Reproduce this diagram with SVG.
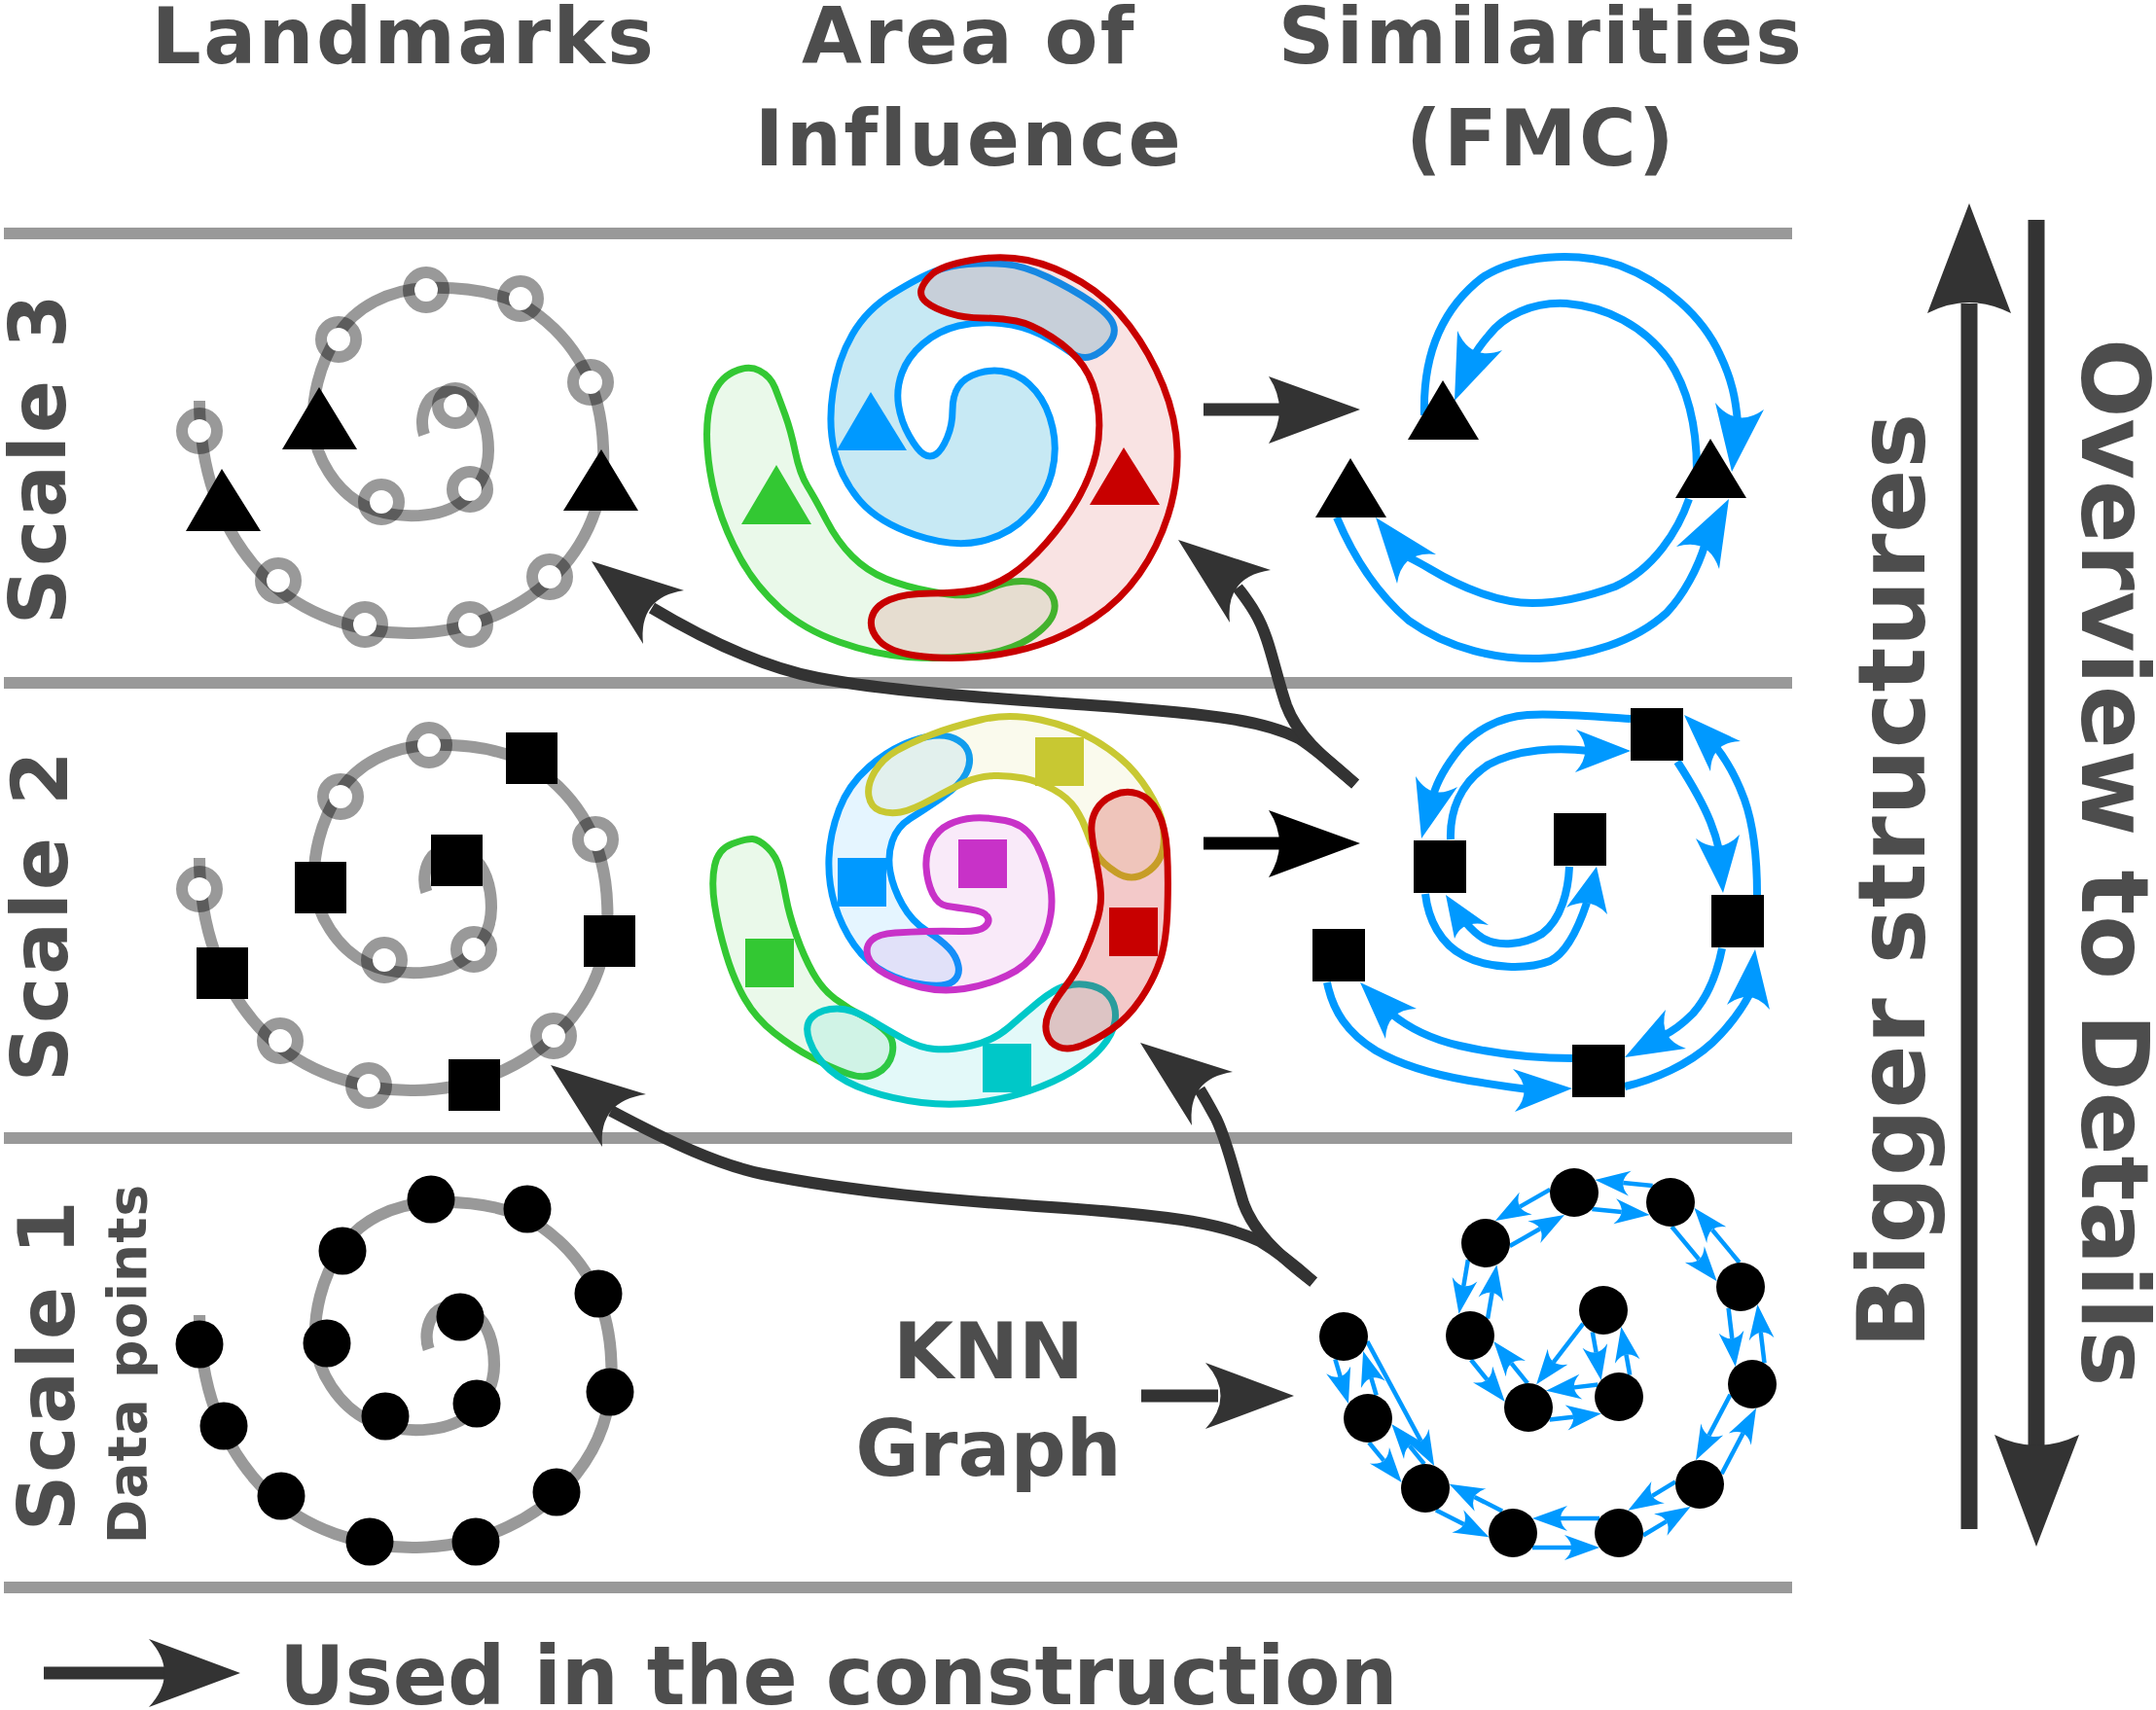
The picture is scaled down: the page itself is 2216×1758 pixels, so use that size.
<svg xmlns="http://www.w3.org/2000/svg" xmlns:xlink="http://www.w3.org/1999/xlink" width="2216" height="1758" viewBox="0 0 2216 1758">
<style>
.sep{stroke:#999;stroke-width:12}
.lbl{font-family:"DejaVu Sans","Liberation Sans",sans-serif;font-weight:bold;fill:#4d4d4d}
.spiral{fill:none;stroke:#999;stroke-width:12}
.dark{fill:none;stroke:#333;stroke-width:12}
.darkh{fill:#333}
.fmc{fill:none;stroke:#0099ff;stroke-width:8}
.fmch{fill:#0099ff}
.knn line{stroke:#0099ff;stroke-width:4.5;marker-end:url(#kh)}
.reg{stroke-width:7}
</style>
<defs>
<marker id="kh" markerUnits="userSpaceOnUse" orient="auto" refX="7" refY="0" markerWidth="40" markerHeight="30" style="overflow:visible"><path d="M36,0 L0,-13 Q14,0 0,13 Z" fill="#0099ff"/></marker>
<path id="sp" d="M205,412 C205,480 225,545 272,593 C310,632 370,652 424,651 C490,650 550,620 585,575 C612,540 622,500 620,460 C618,400 595,352 545,318 C512,298 470,295 438,296 C400,298 365,315 347,345 C328,375 320,410 322,440 C324,470 345,505 375,520 C400,533 445,535 472,518 C492,505 502,485 502,463 C502,440 495,420 482,410 C470,400 452,400 442,410 C434,420 432,435 436,447"/>
<g id="hc"><circle r="12" fill="#fff"/><circle r="18" fill="none" stroke="#000" stroke-opacity="0.4" stroke-width="12"/></g>
</defs>
<rect width="2216" height="1758" fill="#fff"/>
<g id="separators">
<line class="sep" x1="4" y1="240" x2="1842" y2="240"/>
<line class="sep" x1="4" y1="702" x2="1842" y2="702"/>
<line class="sep" x1="4" y1="1170" x2="1842" y2="1170"/>
<line class="sep" x1="4" y1="1632" x2="1842" y2="1632"/>
</g>
<g id="headers" class="lbl" font-size="80" text-anchor="middle" letter-spacing="2.4">
<text x="415" y="65">Landmarks</text>
<text x="996" y="65">Area of</text>
<text x="996" y="170">Influence</text>
<text x="1584" y="65">Similarities</text>
<text x="1584" y="170">(FMC)</text>
</g>
<g id="row-labels" class="lbl" text-anchor="middle">
<text font-size="80" letter-spacing="2.6" transform="translate(67,471) rotate(-90)">Scale 3</text>
<text font-size="80" letter-spacing="2.6" transform="translate(69,941) rotate(-90)">Scale 2</text>
<text font-size="80" letter-spacing="2.6" transform="translate(76,1403) rotate(-90)">Scale 1</text>
<text font-size="55" letter-spacing="1" transform="translate(150,1402) rotate(-90)">Data points</text>
</g>
<g id="connectors">
<g id="construction-arrows">
<path class="dark" d="M1393,806 C1375,790 1355,772 1335,759 C1300,742 1260,735 1121,725 C1040,719 920,712 841,697 C780,685 720,655 670,625"/>
<path class="darkh" d="M608,577 L703,607 Q656,614 661,662 Z"/>
<path class="dark" d="M1393,806 C1365,782 1335,760 1322,725 C1310,690 1305,655 1290,630 C1283,618 1278,612 1272,604"/>
<path class="darkh" d="M1211,555 L1306,586 Q1259,593 1264,640 Z"/>
<path class="dark" d="M1350,1318 C1330,1300 1315,1288 1295,1276 C1260,1260 1220,1250 1065,1240 C980,1234 880,1226 784,1207 C740,1198 690,1175 628,1142"/>
<path class="darkh" d="M566,1095 L664,1125 Q615,1132 619,1179 Z"/>
<path class="dark" d="M1350,1318 C1320,1295 1290,1270 1278,1237 C1268,1205 1262,1175 1250,1150 C1243,1137 1238,1128 1233,1120"/>
<path class="darkh" d="M1172,1072 L1267,1102 Q1220,1109 1225,1157 Z"/>
<line x1="1237" y1="421" x2="1318" y2="421" stroke="#333" stroke-width="13"/>
<path class="darkh" d="M1398,421 L1304,387 Q1326,421 1304,456 Z"/>
<line x1="1237" y1="867" x2="1318" y2="867" stroke="#000" stroke-width="13"/>
<path fill="#000" d="M1398,867 L1304,833 Q1326,867 1304,902 Z"/>
<line x1="1173" y1="1435" x2="1252" y2="1435" stroke="#333" stroke-width="13"/>
<path class="darkh" d="M1330,1435 L1239,1401 Q1270,1435 1239,1469 Z"/>
<line x1="2024" y1="1572" x2="2024" y2="312" stroke="#333" stroke-width="17"/>
<path class="darkh" d="M2024,209 L1981,322 Q2024,300 2067,322 Z"/>
<line x1="2093" y1="226" x2="2093" y2="1486" stroke="#333" stroke-width="17"/>
<path class="darkh" d="M2093,1590 L2050,1475 Q2093,1497 2137,1475 Z"/>
</g>
<g id="fmc3-edges">
<path class="fmc" d="M1464,427 C1462,360 1485,315 1524,285 C1560,262 1620,258 1665,273 C1710,290 1750,325 1768,365 C1780,390 1784,410 1786,434"/>
<path class="fmch" d="M1780,485 L1763,414 Q1785,441 1813,421 Z"/>
<path class="fmc" d="M1744,483 C1744,440 1735,400 1715,370 C1690,335 1650,315 1610,312 C1575,310 1545,325 1530,345 C1524,352 1519,358 1515,366"/>
<path class="fmch" d="M1495,412 L1498,340 Q1512,372 1544,360 Z"/>
<path class="fmc" d="M1736,513 C1725,545 1700,585 1660,603 C1630,614 1600,620 1575,620 C1540,620 1500,603 1470,585 C1460,579 1452,575 1446,572"/>
<path class="fmch" d="M1414,532 L1476,570 Q1441,566 1436,600 Z"/>
<path class="fmc" d="M1374,532 C1390,570 1415,610 1448,638 C1490,668 1540,678 1582,677 C1630,675 1680,660 1713,630 C1730,612 1745,585 1753,558"/>
<path class="fmch" d="M1777,513 L1723,562 Q1756,552 1767,585 Z"/>
</g>
<g id="fmc2-edges" stroke-width="7.5">
<path class="fmc" d="M1676,739 C1640,737 1600,733 1570,735 C1540,737 1515,752 1500,770 C1488,785 1478,800 1473,818"/>
<path class="fmch" d="M1461,862 L1455,798 Q1471,824 1498,809 Z"/>
<path class="fmc" d="M1491,863 C1490,835 1500,805 1530,786 C1560,770 1600,768 1634,772"/>
<path class="fmch" d="M1676,772 L1620,750 Q1639,772 1619,794 Z"/>
<path class="fmc" d="M1724,783 C1735,800 1750,825 1758,845 C1762,855 1765,865 1767,874"/>
<path class="fmch" d="M1771,918 L1743,862 Q1767,880 1788,858 Z"/>
<path class="fmc" d="M1806,920 C1806,885 1803,850 1793,822 C1785,800 1775,782 1763,767"/>
<path class="fmch" d="M1731,735 L1758,793 Q1759,763 1789,762 Z"/>
<path class="fmc" d="M1770,975 C1765,1000 1755,1025 1740,1042 C1730,1052 1720,1060 1709,1065"/>
<path class="fmch" d="M1670,1087 L1712,1038 Q1704,1068 1733,1078 Z"/>
<path class="fmc" d="M1670,1117 C1700,1110 1735,1095 1760,1072 C1778,1055 1790,1038 1799,1021"/>
<path class="fmch" d="M1804,976 L1775,1033 Q1800,1015 1819,1038 Z"/>
<path class="fmc" d="M1616,1088 C1580,1088 1540,1084 1500,1075 C1470,1068 1448,1057 1430,1042"/>
<path class="fmch" d="M1398,1010 L1456,1037 Q1425,1038 1424,1068 Z"/>
<path class="fmc" d="M1364,1010 C1370,1040 1385,1062 1414,1080 C1440,1095 1475,1105 1510,1111 C1535,1115 1555,1118 1571,1120"/>
<path class="fmch" d="M1616,1119 L1555,1099 Q1577,1120 1557,1143 Z"/>
<path class="fmc" d="M1465,919 C1468,945 1480,970 1505,983 C1530,996 1570,997 1593,988 C1610,980 1622,955 1631,928"/>
<path class="fmch" d="M1641,891 L1610,933 Q1635,921 1652,940 Z"/>
<path class="fmc" d="M1613,891 C1612,915 1605,945 1585,960 C1565,972 1540,973 1525,965 C1518,961 1512,955 1506,948"/>
<path class="fmch" d="M1486,920 L1530,951 Q1503,945 1495,965 Z"/>
</g>
<g id="knn-edges" class="knn">
<g transform="translate(1381,1374) rotate(73.4)"><line x1="20" y1="15" x2="38.6" y2="15"/><line x1="67.6" y1="-15" x2="49" y2="-15"/></g>
<g transform="translate(1406,1458) rotate(50.7)"><line x1="20" y1="15" x2="44.1" y2="15"/><line x1="73.1" y1="-15" x2="49" y2="-15"/></g>
<g transform="translate(1465,1530) rotate(27.1)"><line x1="20" y1="15" x2="52.1" y2="15"/><line x1="81.1" y1="-15" x2="49" y2="-15"/></g>
<g transform="translate(1555,1576)"><line x1="20" y1="15" x2="60" y2="15"/><line x1="89" y1="-15" x2="49" y2="-15"/></g>
<g transform="translate(1664,1576) rotate(-31.1)"><line x1="20" y1="15" x2="47.9" y2="15"/><line x1="76.9" y1="-15" x2="49" y2="-15"/></g>
<g transform="translate(1747,1526) rotate(-62.3)"><line x1="20" y1="15" x2="67.3" y2="15"/><line x1="96.3" y1="-15" x2="49" y2="-15"/></g>
<g transform="translate(1801,1423) rotate(-96.8)"><line x1="20" y1="15" x2="51.7" y2="15"/><line x1="80.7" y1="-15" x2="49" y2="-15"/></g>
<g transform="translate(1789,1323) rotate(-129.6)"><line x1="20" y1="15" x2="63.9" y2="15"/><line x1="92.9" y1="-15" x2="49" y2="-15"/></g>
<g transform="translate(1717,1236) rotate(-174.2)"><line x1="20" y1="15" x2="50.5" y2="15"/><line x1="79.5" y1="-15" x2="49" y2="-15"/></g>
<g transform="translate(1618,1226) rotate(150.3)"><line x1="20" y1="15" x2="55.8" y2="15"/><line x1="84.8" y1="-15" x2="49" y2="-15"/></g>
<g transform="translate(1527,1278) rotate(99.6)"><line x1="20" y1="15" x2="47.3" y2="15"/><line x1="76.3" y1="-15" x2="49" y2="-15"/></g>
<g transform="translate(1511,1373) rotate(51)"><line x1="20" y1="15" x2="46.3" y2="15"/><line x1="75.3" y1="-15" x2="49" y2="-15"/></g>
<g transform="translate(1571,1447) rotate(-6.7)"><line x1="20" y1="15" x2="44.6" y2="15"/><line x1="73.6" y1="-15" x2="49" y2="-15"/></g>
<g transform="translate(1648,1347) rotate(79.8)"><line x1="20" y1="15" x2="41.4" y2="15"/><line x1="70.4" y1="-15" x2="49" y2="-15"/></g>
<g transform="translate(1381,1374) rotate(61.7)"><line x1="16" y1="-19" x2="132.2" y2="-19"/></g>
<g transform="translate(1648,1347) rotate(127.6)"><line x1="23.7" y1="8" x2="73.5" y2="8"/></g>
</g>
</g>
<g id="landmarks-scale3">
<use xlink:href="#sp" class="spiral"/>
<use xlink:href="#hc" x="205" y="443"/><use xlink:href="#hc" x="438" y="298"/><use xlink:href="#hc" x="535" y="307"/>
<use xlink:href="#hc" x="348" y="349"/><use xlink:href="#hc" x="607" y="393"/><use xlink:href="#hc" x="468" y="417"/>
<use xlink:href="#hc" x="392" y="516"/><use xlink:href="#hc" x="483" y="503"/><use xlink:href="#hc" x="286" y="597"/>
<use xlink:href="#hc" x="375" y="642"/><use xlink:href="#hc" x="483" y="642"/><use xlink:href="#hc" x="565" y="593"/>
<path d="M328,398 L290,462 L367,462 Z M228,482 L191,546 L268,546 Z M618,462 L579,525 L656,525 Z" fill="#000"/>
</g>
<g id="landmarks-scale2">
<use xlink:href="#sp" class="spiral" transform="translate(205,470) scale(1.01,1) translate(-205,0)"/>
<use xlink:href="#hc" x="205" y="914"/><use xlink:href="#hc" x="441" y="766"/><use xlink:href="#hc" x="350" y="819"/>
<use xlink:href="#hc" x="612" y="863"/><use xlink:href="#hc" x="395" y="987"/><use xlink:href="#hc" x="487" y="976"/>
<use xlink:href="#hc" x="288" y="1070"/><use xlink:href="#hc" x="379" y="1116"/><use xlink:href="#hc" x="569" y="1065"/>
<g fill="#000">
<rect x="520" y="753" width="53" height="53"/><rect x="443" y="858" width="53" height="53"/><rect x="303" y="886" width="53" height="53"/>
<rect x="600" y="941" width="53" height="53"/><rect x="202" y="974" width="53" height="53"/><rect x="461" y="1089" width="53" height="53"/>
</g>
</g>
<g id="landmarks-scale1">
<use xlink:href="#sp" class="spiral" transform="translate(205,940) scale(1.02,1) translate(-205,0)"/>
<g fill="#000">
<circle cx="205" cy="1382" r="24.5"/><circle cx="230" cy="1466" r="24.5"/><circle cx="289" cy="1538" r="24.5"/>
<circle cx="380" cy="1585" r="24.5"/><circle cx="489" cy="1585" r="24.5"/><circle cx="572" cy="1534" r="24.5"/>
<circle cx="627" cy="1431" r="24.5"/><circle cx="615" cy="1330" r="24.5"/><circle cx="542" cy="1243" r="24.5"/>
<circle cx="443" cy="1233" r="24.5"/><circle cx="352" cy="1286" r="24.5"/><circle cx="336" cy="1381" r="24.5"/>
<circle cx="473" cy="1354" r="24.5"/><circle cx="396" cy="1456" r="24.5"/><circle cx="490" cy="1443" r="24.5"/>
</g>
</g>
<g id="influence-scale3" class="reg">
<path fill="#33c833" fill-opacity="0.1" stroke="#33c833" d="M780.5,381 Q769,375 753.5,382.5 Q738,390 731.5,410 Q725,430 727,460 Q729,490 737.5,518.5 Q746,547 761.5,575 Q777,603 801.5,625 Q826,647 862.5,660 Q899,673 933.5,675.5 Q968,678 1002.5,674 Q1037,670 1058,656.5 Q1079,643 1083,630 Q1087,617 1077,607 Q1067,597 1050,597.5 Q1033,598 1019.5,604 Q1006,610 994.5,611.5 Q983,613 956.5,608 Q930,603 910.5,595 Q891,587 876,572 Q861,557 849.5,535 Q838,513 830,500 Q822,487 817.5,465 Q813,443 807,426.5 Q801,410 796.5,398.5 Q792,387 780.5,381 Z"/>
<path fill="#0099cc" fill-opacity="0.22" stroke="#0099ff" d="M960.5,279 Q945,285 918,301.5 Q891,318 876,344 Q861,370 856,403.5 Q851,437 858,465 Q865,493 884,515 Q903,537 941,550 Q979,563 1008,556.5 Q1037,550 1056,530 Q1075,510 1081,486.5 Q1087,463 1082,440 Q1077,417 1064.5,402 Q1052,387 1036.5,383 Q1021,379 1006,383.5 Q991,388 985,397.5 Q979,407 979,422 Q979,437 973.5,450 Q968,463 962,467 Q956,471 949.5,467 Q943,463 934.5,448 Q926,433 923.5,416.5 Q921,400 927,383.5 Q933,367 948.5,353.5 Q964,340 985,335 Q1006,330 1029,332.5 Q1052,335 1069.5,344 Q1087,353 1099,361.5 Q1111,370 1121.5,366.5 Q1132,363 1140,353 Q1148,343 1144,333 Q1140,323 1121,310 Q1102,297 1077,285 Q1052,273 1033,271.5 Q1014,270 995,271.5 Q976,273 960.5,279 Z"/>
<path fill="#c80000" fill-opacity="0.11" stroke="#c80000" d="M947,297.5 Q949,290 958.5,281.5 Q968,273 998.5,267.5 Q1029,262 1056,267.5 Q1083,273 1111.5,290 Q1140,307 1161,335 Q1182,363 1195.5,396.5 Q1209,430 1210,463.5 Q1211,497 1200.5,530 Q1190,563 1171,590 Q1152,617 1125,635 Q1098,653 1067.5,663 Q1037,673 1002.5,675.5 Q968,678 941,674 Q914,670 903.5,658.5 Q893,647 896,635 Q899,623 914.5,616.5 Q930,610 956.5,610 Q983,610 1002,606.5 Q1021,603 1038.5,591.5 Q1056,580 1075,558.5 Q1094,537 1107.5,513.5 Q1121,490 1126.5,466.5 Q1132,443 1128.5,418 Q1125,393 1113.5,376.5 Q1102,360 1081,346.5 Q1060,333 1044.5,330 Q1029,327 1010,327 Q991,327 975.5,322 Q960,317 952.5,311 Q945,305 947,297.5 Z"/>
<path fill="#33c833" d="M798,478 L762,539 L834,539 Z"/>
<path fill="#0099ff" d="M895,403 L860,463 L932,463 Z"/>
<path fill="#c80000" d="M1155,460 L1120,519 L1192,519 Z"/>
</g>
<g id="influence-scale2" class="reg">
<path fill="#33c833" fill-opacity="0.1" stroke="#33c833" d="M773.5,862.5 Q767,862 752.5,867.5 Q738,873 734.5,890 Q731,907 734.5,930 Q738,953 746,980 Q754,1007 765.5,1027 Q777,1047 796,1062 Q815,1077 834,1087 Q853,1097 870.5,1103.5 Q888,1110 901,1103.5 Q914,1097 917,1083.5 Q920,1070 911.5,1061.5 Q903,1053 887.5,1045 Q872,1037 858.5,1027 Q845,1017 835.5,1000 Q826,983 818.5,961.5 Q811,940 808,923.5 Q805,907 801.5,893.5 Q798,880 789,871.5 Q780,863 773.5,862.5 Z"/>
<path fill="#00c8c8" fill-opacity="0.11" stroke="#00c8c8" d="M832,1070 Q826,1053 835.5,1045 Q845,1037 860.5,1037 Q876,1037 895,1048.5 Q914,1060 929.5,1068.5 Q945,1077 960.5,1078.5 Q976,1080 998.5,1075 Q1021,1070 1036.5,1056.5 Q1052,1043 1067.5,1030 Q1083,1017 1096,1013.5 Q1109,1010 1122.5,1013.5 Q1136,1017 1142,1027 Q1148,1037 1146,1050 Q1144,1063 1132.5,1076.5 Q1121,1090 1102,1101.5 Q1083,1113 1058,1121.5 Q1033,1130 1004.5,1133.5 Q976,1137 947,1133.5 Q918,1130 893,1121.5 Q868,1113 853,1100 Q838,1087 832,1070 Z"/>
<path fill="#0099ff" fill-opacity="0.1" stroke="#0099ff" d="M938,761.5 Q962,753 976.5,757.5 Q991,762 995,772.5 Q999,783 993,795 Q987,807 968,820 Q949,833 935.5,841.5 Q922,850 917,865 Q912,880 915,896.5 Q918,913 927.5,930 Q937,947 952.5,957 Q968,967 975.5,975 Q983,983 985,993 Q987,1003 979.5,1009 Q972,1015 951,1012.5 Q930,1010 910.5,1000 Q891,990 878,971.5 Q865,953 858,930 Q851,907 852,882 Q853,857 862.5,832 Q872,807 893,788.5 Q914,770 938,761.5 Z"/>
<path fill="#c8c832" fill-opacity="0.09" stroke="#c8c832" d="M893,818.5 Q891,807 899,793.5 Q907,780 922,771.5 Q937,763 958,755 Q979,747 1008,740 Q1037,733 1069.5,740 Q1102,747 1127,762 Q1152,777 1167,795 Q1182,813 1190,831.5 Q1198,850 1196,868.5 Q1194,887 1178.5,897 Q1163,907 1147.5,897 Q1132,887 1126.5,877 Q1121,867 1117,855 Q1113,843 1105.5,831.5 Q1098,820 1082.5,811.5 Q1067,803 1052,800 Q1037,797 1021.5,797.5 Q1006,798 992.5,804 Q979,810 958,821.5 Q937,833 925.5,835 Q914,837 904.5,833.5 Q895,830 893,818.5 Z"/>
<path fill="#c832c8" fill-opacity="0.1" stroke="#c832c8" d="M1000.5,841 Q1014,840 1033,843.5 Q1052,847 1061.5,862 Q1071,877 1077,898.5 Q1083,920 1080,940 Q1077,960 1066.5,976.5 Q1056,993 1035,1003 Q1014,1013 991,1016.5 Q968,1020 947,1015 Q926,1010 910.5,1001.5 Q895,993 892,983 Q889,973 896,966.5 Q903,960 920,959 Q937,958 952.5,957.5 Q968,957 987,957.5 Q1006,958 1012,953 Q1018,948 1015,942.5 Q1012,937 997.5,935 Q983,933 973.5,931.5 Q964,930 958.5,918.5 Q953,907 952,892 Q951,877 957.5,865 Q964,853 975.5,847.5 Q987,842 1000.5,841 Z"/>
<path fill="#c80000" fill-opacity="0.21" stroke="#c80000" d="M1144.5,817.5 Q1157,812 1169.5,816 Q1182,820 1190,835 Q1198,850 1199.5,875 Q1201,900 1200,933.5 Q1199,967 1192.5,987 Q1186,1007 1172.5,1027 Q1159,1047 1142,1058.5 Q1125,1070 1111.5,1075 Q1098,1080 1088.5,1076.5 Q1079,1073 1076,1063 Q1073,1053 1078,1041.5 Q1083,1030 1094.5,1015 Q1106,1000 1113.5,983.5 Q1121,967 1126.5,950 Q1132,933 1131.5,920 Q1131,907 1127,887 Q1123,867 1122,855 Q1121,843 1126.5,833 Q1132,823 1144.5,817.5 Z"/>
<rect x="1064" y="758" width="50" height="50" fill="#c8c832"/>
<rect x="861" y="882" width="50" height="50" fill="#0099ff"/>
<rect x="985" y="863" width="50" height="50" fill="#c832c8"/>
<rect x="1140" y="933" width="50" height="50" fill="#c80000"/>
<rect x="1010" y="1073" width="50" height="50" fill="#00c8c8"/>
<rect x="766" y="965" width="50" height="50" fill="#33c833"/>
</g>
<g id="fmc-scale3" fill="#000">
<path d="M1483,391 L1447,452 L1520,452 Z"/>
<path d="M1388,471 L1352,532 L1425,532 Z"/>
<path d="M1758,451 L1722,512 L1795,512 Z"/>
</g>
<g id="fmc-scale2" fill="#000">
<rect x="1676" y="728" width="54" height="54"/>
<rect x="1453" y="864" width="54" height="54"/>
<rect x="1597" y="836" width="54" height="54"/>
<rect x="1759" y="920" width="54" height="54"/>
<rect x="1349" y="955" width="54" height="54"/>
<rect x="1616" y="1074" width="54" height="54"/>
</g>
<g id="knn-scale1" fill="#000">
<circle cx="1381" cy="1374" r="25"/><circle cx="1406" cy="1458" r="25"/><circle cx="1465" cy="1530" r="25"/>
<circle cx="1555" cy="1576" r="25"/><circle cx="1664" cy="1576" r="25"/><circle cx="1747" cy="1526" r="25"/>
<circle cx="1801" cy="1423" r="25"/><circle cx="1789" cy="1323" r="25"/><circle cx="1717" cy="1236" r="25"/>
<circle cx="1618" cy="1226" r="25"/><circle cx="1527" cy="1278" r="25"/><circle cx="1511" cy="1373" r="25"/>
<circle cx="1648" cy="1347" r="25"/><circle cx="1571" cy="1447" r="25"/><circle cx="1664" cy="1436" r="25"/>
</g>
<g id="knn-label" class="lbl" font-size="80" text-anchor="middle">
<text x="1016" y="1417">KNN</text>
<text x="1016" y="1517">Graph</text>
</g>
<g id="side-labels" class="lbl" font-size="96" text-anchor="middle" letter-spacing="0.8">
<text transform="translate(1978,905) rotate(-90)">Bigger structures</text>
<text transform="translate(2140,887) rotate(90)">Overview to Details</text>
</g>
<g id="legend">
<line x1="45" y1="1720" x2="172" y2="1720" stroke="#333" stroke-width="13"/>
<path class="darkh" d="M247,1720 L153,1685 Q185,1720 153,1755 Z"/>
<text class="lbl" x="287" y="1752" font-size="83">Used in the construction</text>
</g>
</svg>
